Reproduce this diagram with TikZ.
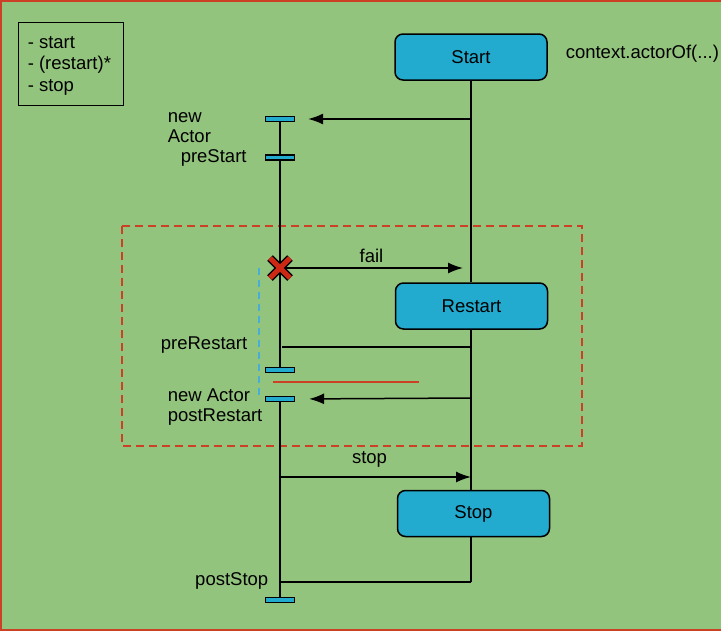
\documentclass[tikz,border=0pt]{standalone}
\usepackage{fontspec}
\setmainfont{Liberation Sans}
\usetikzlibrary{arrows.meta}

\definecolor{bggreen}{RGB}{147,196,125}
\definecolor{boxblue}{RGB}{34,170,207}
\definecolor{edgered}{RGB}{204,65,37}
\definecolor{crossred}{RGB}{204,40,20}
\definecolor{dashblue}{RGB}{70,175,215}

\tikzset{
  state/.style={draw, fill=boxblue, rounded corners=8pt, line width=1.5pt, minimum width=152pt, minimum height=46pt, inner sep=0pt},
  bar/.style={draw, fill=boxblue, line width=1.2pt, minimum width=29pt, minimum height=5pt, inner sep=0pt},
  txt/.style={inner sep=0pt}
}

\begin{document}
\begin{tikzpicture}[x=1pt, y=-1pt, line width=1.5pt, >={Latex[length=15pt,width=11pt]},
  every node/.style={font=\fontsize{18.5}{21}\selectfont}]
  % Add background
  \useasboundingbox (0,0) rectangle (721,630);
  \fill[bggreen] (0,0) rectangle (721,630);
  \draw[edgered, line width=3pt] (721,0) -- (0,0) -- (0,630) -- (721,630);

  % Add legend
  \draw[line width=1pt] (18,22) rectangle (123,105);
  \node[txt, anchor=west] (lstart) at (27,43) {- start};
  \node[txt, anchor=west] (lrestart) at (27,65) {- (restart)*};
  \node[txt, anchor=west] (lstop) at (27,87) {- stop};

  % Add restart region
  \draw[edgered, dash pattern=on 8pt off 5pt] (122,226) rectangle (582,446);
  \draw[dashblue, dash pattern=on 7pt off 5pt] (259,268) -- (259,400);
  \draw[edgered] (273,382) -- (419,382);

  % Add states
  \node[state] (start) at (471,57) {Start};
  \node[state] (restart) at (471.5,306) {Restart};
  \node[state] (stop) at (473.5,513.5) {Stop};
  \node[txt, anchor=west] (ctx) at (565,54) {context.actorOf(...)};

  % Right lifeline
  \coordinate (rnew) at (471,119);
  \coordinate (rpre) at (471,347);
  \coordinate (rpost) at (471,398);
  \coordinate (rstop) at (471,477);
  \coordinate (rend) at (471,582);
  \draw (start.south) -- (start.south |- restart.north);
  \draw (restart.south) -- (restart.south -| start) -- (start |- stop.north);
  \draw (start |- stop.south) -- (rend);

  % Left lifeline
  \coordinate (fail) at (280,268);
  \coordinate (lstopmsg) at (280,477);
  \draw (280,119) -- (280,370);
  \draw (280,399) -- (280,600);

  % Add bars
  \node[bar] (newbar) at (280,119) {};
  \node[bar] (prestartbar) at (280,157.5) {};
  \node[bar] (prerestartbar) at (280,370) {};
  \node[bar] (postrestartbar) at (280,399) {};
  \node[bar] (poststopbar) at (280,600) {};

  % Messages
  \draw[->, shorten >=13pt] (rnew) -- (newbar.east);
  \draw[->] (fail) -- (463,268) node[txt, midway, above, yshift=5pt] {fail};
  \draw[shorten >=2pt] (rpre) -- (rpre -| prerestartbar);
  \draw[->, shorten >=14pt] (rpost) -- (postrestartbar.east);
  \draw[->] (lstopmsg) -- (rstop) node[txt, midway, above, yshift=9pt, xshift=-6pt] {stop};
  \draw (rend) -- (rend -| poststopbar);

  % Add failure cross
  \draw[line width=8pt] (270,258) -- (290,278) (270,278) -- (290,258);
  \draw[crossred, line width=5pt] (270,258) -- (290,278) (270,278) -- (290,258);

  % Add labels
  \node[txt, anchor=west] (newlbl) at (167,118) {new};
  \node[txt, anchor=west] (actorlbl) at (167,136) {Actor};
  \node[txt, anchor=west] (prestartlbl) at (180,158) {preStart};
  \node[txt, anchor=east] (prerestartlbl) at (248,345) {preRestart};
  \node[txt, anchor=west] (newactorlbl) at (167,395) {new Actor};
  \node[txt, anchor=west] (postrestartlbl) at (167,417) {postRestart};
  \node[txt, anchor=east] (poststoplbl) at (269,581) {postStop};

\end{tikzpicture}
\end{document}
